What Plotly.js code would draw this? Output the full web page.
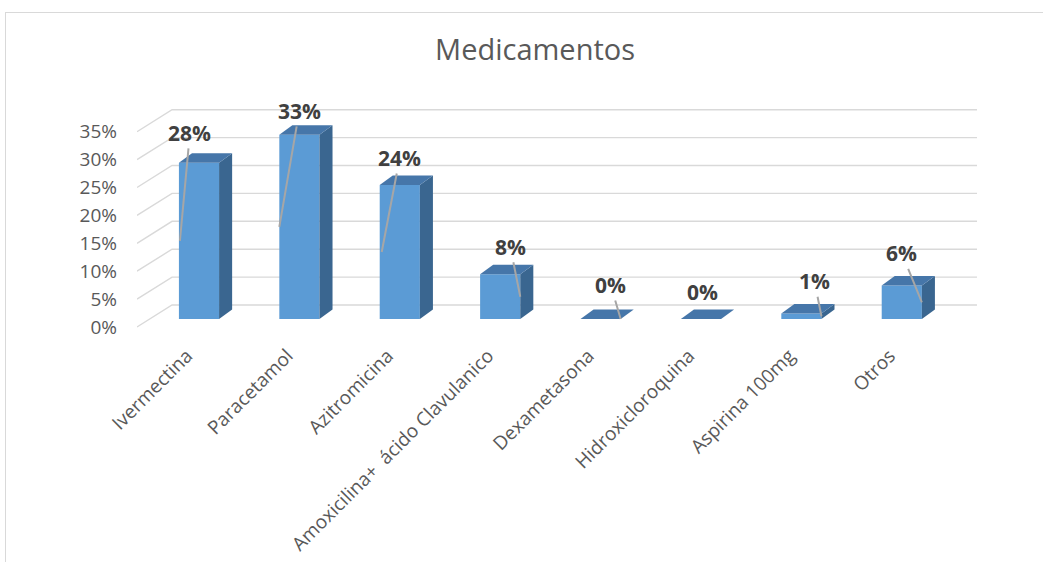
<!DOCTYPE html>
<html><head><meta charset="utf-8">
<script src="https://cdn.plot.ly/plotly-3.0.1.min.js"></script>
<style>
html,body{margin:0;padding:0;background:#fff;overflow:hidden}
#chart{width:1043px;height:562px}
#frame{position:absolute;left:5px;top:12px;width:1100px;height:600px;border:1.5px solid #d9d9d9;pointer-events:none}
</style></head><body>
<div id="chart"></div><div id="frame"></div>
<script>
// ---- data ----
const categories = ['Ivermectina', 'Paracetamol', 'Azitromicina', 'Amoxicilina+  ácido Clavulanico',
  'Dexametasona', 'Hidroxicloroquina', 'Aspirina 100mg', 'Otros'];
const values = [28, 33, 24, 8, 0, 0, 1, 6];           // percent
const yTickValues = [0, 5, 10, 15, 20, 25, 30, 35];
const yTickLabels = ['0%', '5%', '10%', '15%', '20%', '25%', '30%', '35%'];

// ---- style / geometry (not data) ----
const FONT = 'Open Sans, Noto Sans, sans-serif';
const xRange = [-0.6175, 7.779];
const yFrontRange = [-0.538, 41.58];   // wall / tick labels
const yBarRange = [-1.971, 40.14];     // bars sit a little deeper
const wallDx = 0.349, wallDy = 3.94, wallRight = 7.749;
const barW = 0.4, barDx = 0.13, barDy = 1.7;
const colFront = '#5B9BD5', colTop = '#4676A9', colSide = '#3A6690';
// label leader lines: [tip x offset from bar centre, text dx px, text dy px, draw line]
const labelOffsets = [[-0.19, 10, -108, 1], [-0.2, 20, -116, 1], [-0.18, 18, -94, 1], [0.2, -10, -50, 1],
  [0.2, -10, -34, 1], [0, 2, -27, 0], [0.2, -7, -35, 1], [0.2, -20, -49, 1]];

const idx = categories.map((_, i) => i);
const traces = [];

// wall grid lines (front diagonal + back wall)
const gx = [], gy = [];
yTickValues.forEach(v => {
  gx.push(xRange[0], xRange[0] + wallDx, wallRight, null);
  gy.push(v, v + wallDy, v + wallDy, null);
});
traces.push({type: 'scatter', mode: 'lines', x: gx, y: gy, xaxis: 'x', yaxis: 'y',
  line: {color: '#D9D9D9', width: 1.4}, hoverinfo: 'skip', showlegend: false, cliponaxis: false});

// front faces of the bars
traces.push({type: 'bar', x: idx, y: values, width: barW, xaxis: 'x', yaxis: 'y2',
  marker: {color: colFront, line: {width: 0}}, showlegend: false, hoverinfo: 'skip'});

// side and top faces
idx.forEach(i => {
  const v = values[i], l = i - barW / 2, r = i + barW / 2;
  traces.push({type: 'scatter', mode: 'lines', fill: 'toself', fillcolor: colSide,
    x: [r, r, r + barDx, r + barDx, r], y: [0, v, v + barDy, barDy, 0],
    xaxis: 'x', yaxis: 'y2', line: {width: 0, color: colSide}, hoverinfo: 'skip', showlegend: false});
  traces.push({type: 'scatter', mode: 'lines', fill: 'toself', fillcolor: colTop,
    x: [l, r, r + barDx, l + barDx, l], y: [v, v, v + barDy, v + barDy, v],
    xaxis: 'x', yaxis: 'y2', line: {width: 0, color: colTop}, hoverinfo: 'skip', showlegend: false});
});

const annotations = idx.map(i => ({
  xref: 'x', yref: 'y2', x: i + labelOffsets[i][0], y: values[i] / 2,
  ax: labelOffsets[i][1], ay: labelOffsets[i][2],
  text: '<b>' + values[i] + '%</b>', showarrow: true, arrowhead: 0, standoff: 0,
  arrowwidth: 2, arrowcolor: labelOffsets[i][3] ? '#A6A6A6' : 'rgba(0,0,0,0)',
  font: {family: FONT, size: 21, color: '#404040'}
}));

const layout = {
  width: 1043, height: 562,
  margin: {l: 137, r: 63, t: 95, b: 232},
  paper_bgcolor: '#ffffff', plot_bgcolor: 'rgba(0,0,0,0)',
  title: {text: 'Medicamentos', x: 0.513, xanchor: 'center', y: 0.911, yanchor: 'middle',
    font: {family: FONT, size: 29, color: '#595959'}},
  xaxis: {range: xRange, tickmode: 'array', tickvals: idx, ticktext: categories, tickangle: -45,
    showgrid: false, zeroline: false, showline: false, ticks: '', ticklabelstandoff: 10,
    ticklabelshift: -12,
    tickfont: {family: FONT, size: 19, color: '#595959'}},
  yaxis: {range: yFrontRange, tickmode: 'array', tickvals: yTickValues, ticktext: yTickLabels,
    showgrid: false, zeroline: false, showline: false, ticks: '', ticklabelstandoff: 19,
    tickfont: {family: FONT, size: 19, color: '#595959'}},
  yaxis2: {range: yBarRange, overlaying: 'y', visible: false, showgrid: false, zeroline: false},
  annotations: annotations,
  showlegend: false
};

Plotly.newPlot('chart', traces, layout, {displayModeBar: false, staticPlot: true});
</script>
</body></html>
